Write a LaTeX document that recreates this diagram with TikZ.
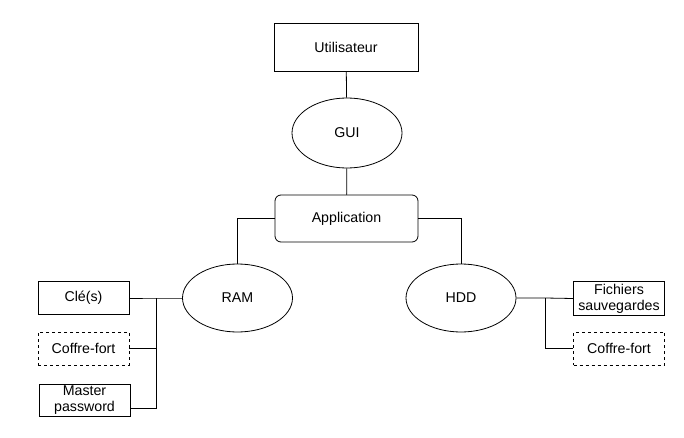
\documentclass[tikz,border=0pt]{standalone}
\usepackage{fontspec}
\setmainfont{Liberation Sans}
\usetikzlibrary{shapes.geometric}
\begin{document}
\begin{tikzpicture}[x=1pt, y=-1pt, line width=0.8pt,
    txt/.style={font=\fontsize{14.2}{16}\selectfont, align=center, inner sep=0pt},
    box/.style={txt, draw, rectangle, minimum width=91pt, minimum height=33pt},
    dashbox/.style={box, dashed},
    round box/.style={txt, draw, rectangle, rounded corners=6pt, minimum width=143pt, minimum height=47pt},
    store/.style={txt, draw, ellipse, minimum width=110pt, minimum height=68pt}
  ]
    \useasboundingbox (0,0) rectangle (684,438);

    % top of the stack
    \path (346,47) node[box, minimum width=144pt, minimum height=48pt] (user) {Utilisateur};
    \path (347,133) node[store, minimum height=70pt] (gui) {GUI};
    \path (346.5,218.5) node[round box] (app) {Application};

    % memories
    \path (237.5,298) node[store] (ram) {RAM};
    \path (461,298) node[store] (hdd) {HDD};

    % what RAM holds
    \path (83.5,298) node[box] (cle) {Clé(s)};
    \path (83.5,348.5) node[dashbox] (coffreL) {Coffre-fort};
    \path (84.5,400) node[box, minimum height=32pt] (master) {Master\\password};

    % what HDD holds
    \path (619,298.5) node[box, minimum height=34pt] (fichiers) {Fichiers\\sauvegardes};
    \path (619,348.5) node[dashbox] (coffreR) {Coffre-fort};

    \coordinate (jl) at (156,298);
    \coordinate (jm) at (156,408);
    \coordinate (jr) at (545,298);

    \draw (user) -- (gui);
    \draw (gui) -- (app);
    \draw (app.west) -| (ram.north);
    \draw (app.east) -| (hdd.north);

    \draw (ram.west) -- (jl) -- (cle.east);
    \draw (jl) |- (coffreL.east);
    \draw (jl) -- (jm) -- (master.east |- jm);

    \draw (hdd.east) -- (jr) -- (fichiers.west);
    \draw (jr) |- (coffreR.west);
\end{tikzpicture}
\end{document}
